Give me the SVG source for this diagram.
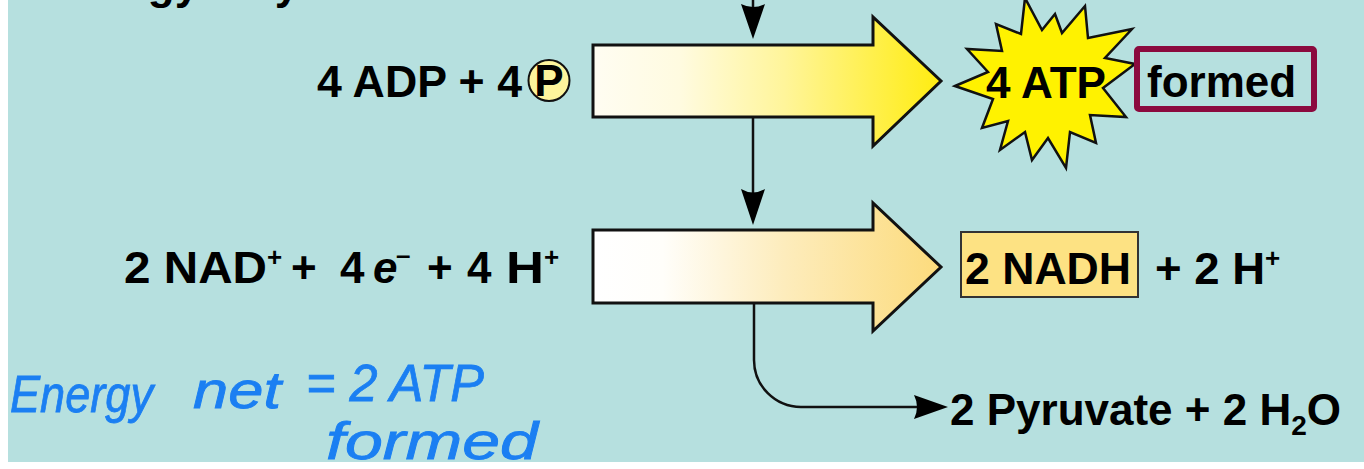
<svg xmlns="http://www.w3.org/2000/svg" width="1364" height="469" viewBox="0 0 1364 469">
<style>
.lbl{font-family:"Liberation Sans",Arial,sans-serif;font-weight:bold;font-size:44px;fill:#000}
.sup{font-size:26px}
.conn{fill:none;stroke:#111;stroke-width:2.5}
.head{fill:#000;stroke:none}
.big{stroke:#111;stroke-width:3;stroke-linejoin:miter}
.hand{font-family:"Liberation Sans",Arial,sans-serif;font-style:italic;font-size:52px;fill:#1b7ff2;stroke:#1b7ff2;stroke-width:0.8}
</style>
<defs>
<linearGradient id="g1" x1="0" y1="0" x2="1" y2="0">
<stop offset="0" stop-color="#fffdf2"/>
<stop offset="0.25" stop-color="#fffbe0"/>
<stop offset="0.55" stop-color="#fff59a"/>
<stop offset="1" stop-color="#ffec10"/>
</linearGradient>
<linearGradient id="g2" x1="0" y1="0" x2="1" y2="0">
<stop offset="0" stop-color="#ffffff"/>
<stop offset="0.2" stop-color="#fffefa"/>
<stop offset="0.55" stop-color="#fdecbc"/>
<stop offset="1" stop-color="#fcdb7c"/>
</linearGradient>
</defs>
<rect x="0" y="0" width="1364" height="469" fill="#ffffff"/>
<rect x="8" y="0" width="1356" height="462" fill="#b6e0df"/>
<text class="lbl" y="-1"><tspan x="50">Energy</tspan><tspan x="221">Payoff</tspan></text>

<g id="arrow1">
<path class="big" fill="url(#g1)" d="M593,45 H873 V17 L941,81 L873,146 V117 H593 Z"/>
</g>
<g id="arrow2">
<path class="big" fill="url(#g2)" d="M593,230 H873 V203 L941,267 L873,331 V303 H593 Z"/>
</g>

<g id="connectors">
<path class="conn" d="M753,0 V20"/>
<path class="head" d="M753,39 L741,4 Q753,10 765,4 Z"/>
<path class="conn" d="M753,117 V200"/>
<path class="head" d="M753,225 L741,189 Q753,196 765,189 Z"/>
<path class="conn" d="M754,303 V360 A47,47 0 0 0 801,407 H925"/>
<path class="head" d="M948,407 L914,395 Q920,407 914,419 Z"/>
</g>

<g id="adp">
<text class="lbl" x="317" y="97" textLength="205" lengthAdjust="spacingAndGlyphs">4 ADP + 4</text>
<circle cx="549" cy="80.5" r="20.5" fill="#fdf49c" stroke="#111" stroke-width="2"/>
<text class="lbl" x="549" y="96" text-anchor="middle" font-size="42">P</text>
</g>

<g id="atp">
<polygon fill="#fff200" stroke="#111" stroke-width="2.5" stroke-linejoin="miter" points="955,86 988,72 967,49 1002,51 996,24 1021,34 1025,-2 1042,30 1055,14 1062,33 1085,6 1088,38 1132,29 1105,58 1135,64 1103,88 1126,117 1090,115 1096,143 1070,132 1066,168 1048,138 1032,160 1025,132 1000,150 1008,121 982,128 993,99"/>
<text class="lbl" x="986" y="98" textLength="120" lengthAdjust="spacingAndGlyphs">4 ATP</text>
</g>

<g id="formed">
<rect x="1137" y="49" width="177" height="60" rx="2" fill="none" stroke="#8b0a3e" stroke-width="6"/>
<text class="lbl" x="1147" y="97">formed</text>
</g>

<g id="nad">
<text class="lbl" y="283"><tspan x="124" textLength="143" lengthAdjust="spacingAndGlyphs">2 NAD</tspan><tspan class="sup" x="267" dy="-17">+</tspan><tspan x="291" dy="17">+</tspan><tspan x="340">4</tspan><tspan x="373" font-style="italic">e</tspan><tspan class="sup" x="396" dy="-19">–</tspan><tspan x="427" dy="19">+</tspan><tspan x="467">4</tspan><tspan x="506" textLength="38" lengthAdjust="spacingAndGlyphs">H</tspan><tspan class="sup" x="544" dy="-17">+</tspan></text>
</g>

<g id="nadh">
<rect x="961" y="232" width="177" height="65" fill="#fde283" stroke="#333" stroke-width="2"/>
<text class="lbl" x="965" y="284" textLength="166" lengthAdjust="spacingAndGlyphs">2 NADH</text>
<text class="lbl" y="284"><tspan x="1155" textLength="110" lengthAdjust="spacingAndGlyphs">+ 2 H</tspan><tspan class="sup" x="1265" dy="-17">+</tspan></text>
</g>

<g id="pyruvate">
<text class="lbl" x="950" y="425">2 Pyruvate + 2 H<tspan font-size="28" dy="10">2</tspan><tspan dy="-10">O</tspan></text>
</g>

<g id="note">
<text class="hand" x="10" y="412" textLength="143" lengthAdjust="spacingAndGlyphs">Energy</text>
<text class="hand" x="193" y="408" textLength="88" lengthAdjust="spacingAndGlyphs">net</text>
<text class="hand" x="306" y="401" textLength="178" lengthAdjust="spacingAndGlyphs">= 2 ATP</text>
<text class="hand" x="326" y="459" font-size="48" textLength="212" lengthAdjust="spacingAndGlyphs">formed</text>
</g>
</svg>
